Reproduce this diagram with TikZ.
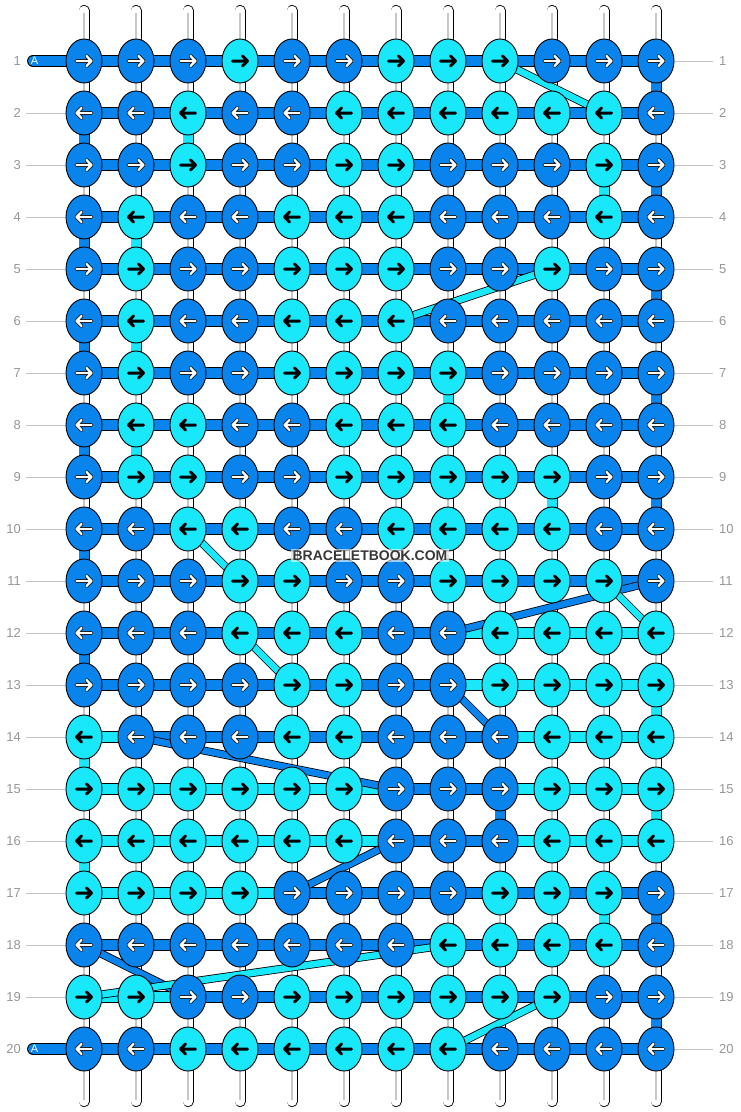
\documentclass[tikz,border=0pt]{standalone}
\usepackage{fontspec}
\setmainfont{Liberation Sans}
\usetikzlibrary{shapes.geometric}
\definecolor{knotdark}{RGB}{8,132,236}
\definecolor{knotlight}{RGB}{24,232,250}
\definecolor{rowgray}{RGB}{150,150,150}
\definecolor{linegray}{RGB}{195,195,195}
\definecolor{markgray}{RGB}{56,56,56}
\tikzset{
  knotd/.style={ellipse, draw=black, line width=0.9pt, fill=knotdark,
    minimum width=36pt, minimum height=44pt, inner sep=0pt},
  knotl/.style={knotd, fill=knotlight},
  arrowd/.style={draw=black, double=white, line width=0.8pt,
    double distance=2.2pt, line cap=round, line join=round},
  arrowl/.style={draw=black, line width=3pt, line cap=round, line join=round},
  bard/.style={draw=black, double=knotdark, line width=0.9pt, double distance=10pt},
  barl/.style={bard, double=knotlight},
  twistd/.style={draw=black, double=knotdark, line width=0.8pt, double distance=6.5pt},
  twistl/.style={twistd, double=knotlight},
  thread/.style={draw=black, double=white, line width=0.8pt,
    double distance=9.4pt, line cap=round},
  threadmid/.style={draw=black!22, line width=1.6pt, shorten <=2pt, shorten >=2pt},
  stringd/.style={draw=black, double=knotdark, line width=0.8pt, double distance=9.4pt},
  stringl/.style={stringd, double=knotlight},
  rowlabel/.style={text=rowgray, font=\fontsize{13}{13}\selectfont, inner sep=3pt},
  rowline/.style={draw=linegray, line width=1pt},
  stublabel/.style={text=white, font=\fontsize{11}{11}\selectfont, inner sep=0pt},
  watermark/.style={text=markgray, font=\bfseries\fontsize{14}{14}\selectfont,
    fill=white, fill opacity=0.6, text opacity=1, inner sep=1.5pt}
}
\begin{document}
\begin{tikzpicture}[x=1pt, y=-1pt]
  \useasboundingbox (0,0) rectangle (740,1112);
  \foreach \r in {1,...,20}
    \foreach \c in {1,...,12}
      \coordinate (k-\r-\c) at ({32+52*\c},{9+52*\r});
  % strings
  \foreach \c in {1,...,12} {
    \coordinate (top-\c) at ({32+52*\c},10.5);
    \coordinate (bot-\c) at ({32+52*\c},1101.5);
    \draw[thread] (top-\c) -- (bot-\c);
    \draw[threadmid] (top-\c) -- (bot-\c);
  }
  \foreach \c/\r/\k in {12/1/d, 1/2/d, 3/2/l, 11/3/l, 12/3/d, 1/4/d, 2/4/l,
                        12/5/d, 1/6/d, 2/6/l, 8/7/l, 12/7/d, 1/8/d, 2/8/l,
                        10/9/l, 12/9/d, 1/10/d, 1/12/d, 12/13/l, 1/14/l,
                        9/15/d, 12/15/l, 1/16/l, 11/17/l, 12/17/d, 12/19/d} {
    \pgfmathtruncatemacro\rn{\r+1}
    \draw[string\k] (k-\r-\c) -- (k-\rn-\c);
  }
  % row numbers
  \foreach \r in {1,...,20} {
    \node[rowlabel, anchor=east] (left-\r) at (24,{9+52*\r}) {\r};
    \node[rowlabel, anchor=west] (right-\r) at (716,{9+52*\r}) {\r};
    \draw[rowline, shorten >=3pt] (k-\r-12) -- (right-\r);
  }
  \foreach \r in {2,...,19}
    \draw[rowline, shorten <=2pt] (left-\r) -- (k-\r-1);
  % rows
  \foreach \r in {1,...,11,18,20}
    \foreach \c in {1,...,11} {
      \pgfmathtruncatemacro\cn{\c+1}
      \draw[bard] (k-\r-\c) -- (k-\r-\cn);
    }
  \foreach \r/\row in {12/{d,d,d,d,d,d,d,l,l,l,l},
                       13/{d,d,d,d,d,d,d,l,l,l,l},
                       14/{l,d,d,d,d,d,d,d,l,l,l},
                       15/{l,l,l,l,l,l,d,d,l,l,l},
                       16/{l,l,l,l,l,l,d,d,l,l,l},
                       17/{l,l,l,l,d,d,d,d,d,d,d},
                       19/{l,l,d,d,d,d,d,d,d,d,d}}
    \foreach [count=\c] \b in \row {
      \pgfmathtruncatemacro\cn{\c+1}
      \draw[bar\b] (k-\r-\c) -- (k-\r-\cn);
    }
  \foreach \r in {1,20} {
    \coordinate (a-\r) at (33,{9+52*\r});
    \draw[bard, line cap=round] (a-\r) -- (k-\r-1);
    \node[stublabel] (alabel-\r) at (34.5,{9+52*\r}) {A};
  }
  \foreach \a/\b/\k in {1-9/2-11/l, 5-10/6-7/l, 10-3/11-4/l, 12-4/13-5/l,
                        11-12/12-8/d, 11-11/12-12/l, 13-8/14-9/d, 14-2/15-7/d,
                        17-5/16-7/d, 18-1/19-3/d, 19-1/18-8/l, 19-10/20-8/l}
    \draw[twist\k] (k-\a) -- (k-\b);
  % knots
  \foreach \r/\row in {1/{d,d,d,l,d,d,l,l,l,d,d,d},
                       2/{d,d,l,d,d,l,l,l,l,l,l,d},
                       3/{d,d,l,d,d,l,l,d,d,d,l,d},
                       4/{d,l,d,d,l,l,l,d,d,d,l,d},
                       5/{d,l,d,d,l,l,l,d,d,l,d,d},
                       6/{d,l,d,d,l,l,l,d,d,d,d,d},
                       7/{d,l,d,d,l,l,l,l,d,d,d,d},
                       8/{d,l,l,d,d,l,l,l,d,d,d,d},
                       9/{d,l,l,d,d,l,l,l,l,l,d,d},
                       10/{d,d,l,l,d,d,l,l,l,l,d,d},
                       11/{d,d,d,l,l,d,d,l,l,l,l,d},
                       12/{d,d,d,l,l,l,d,d,l,l,l,l},
                       13/{d,d,d,d,l,l,d,d,l,l,l,l},
                       14/{l,d,d,d,l,l,d,d,d,l,l,l},
                       15/{l,l,l,l,l,l,d,d,d,l,l,l},
                       16/{l,l,l,l,l,l,d,d,d,l,l,l},
                       17/{l,l,l,l,d,d,d,d,l,l,l,d},
                       18/{d,d,d,d,d,d,d,l,l,l,l,d},
                       19/{l,l,d,d,l,l,l,l,l,l,d,d},
                       20/{d,d,l,l,l,l,l,l,d,d,d,d}}
    \foreach [count=\c] \k in \row {
      \node[knot\k] (n-\r-\c) at (k-\r-\c) {};
      \pgfmathsetmacro\dir{1-2*mod(\r+1,2)}
      \draw[arrow\k, shift={(k-\r-\c)}, xscale=\dir]
        (-7.5,0) -- (7.5,0) (2.5,-5) -- (7.5,0) -- (2.5,5);
    }
  \node[watermark] (mark) at (370,555.5) {BRACELETBOOK.COM};
\end{tikzpicture}
\end{document}
